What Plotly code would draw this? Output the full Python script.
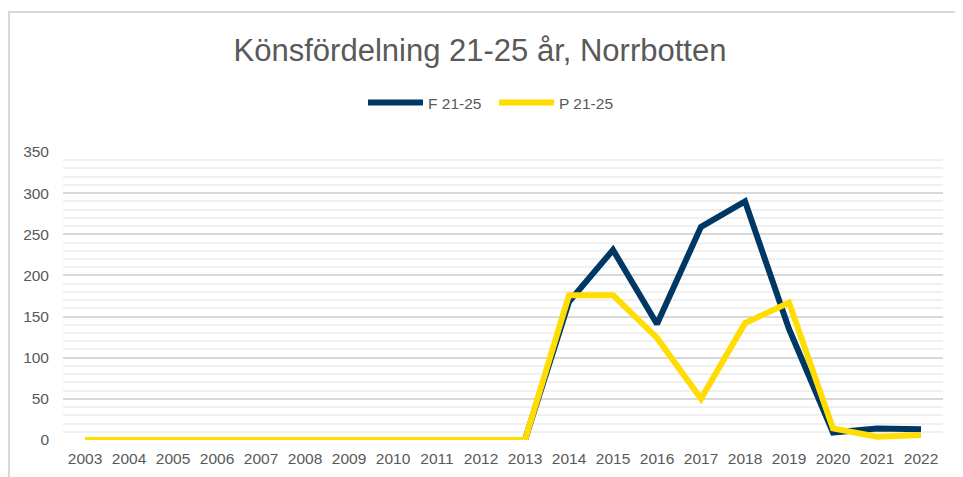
import plotly.graph_objects as go

years = [str(y) for y in range(2003, 2023)]
f_21_25 = [0, 0, 0, 0, 0, 0, 0, 0, 0, 0, 0, 168, 231, 141, 259, 290, 135, 9, 14, 13]
p_21_25 = [0, 0, 0, 0, 0, 0, 0, 0, 0, 0, 0, 176, 176, 124, 50, 142, 167, 14, 4, 6]

FONT = "Liberation Sans, Arial, sans-serif"
GREY = "#595959"

W, H = 955, 469
L, R, T, B = 55, 20, 144, 37
PW, PH = W - L - R, H - T - B

fig = go.Figure()
fig.add_trace(go.Scatter(x=years, y=f_21_25, mode="lines", name="F 21-25",
                         line=dict(color="#003865", width=6)))
fig.add_trace(go.Scatter(x=years, y=p_21_25, mode="lines", name="P 21-25",
                         line=dict(color="#FFDD00", width=6)))

fig.update_layout(
    width=W, height=H,
    margin=dict(l=L, r=R, t=T, b=B),
    paper_bgcolor="white", plot_bgcolor="white",
    font=dict(family=FONT, color=GREY, size=15.5),
    title=dict(text="Könsfördelning 21-25 år, Norrbotten", x=(472 - L) / PW, xref="paper",
               y=1 - 42 / H, yref="container", xanchor="center", yanchor="middle",
               font=dict(size=31, color=GREY, family=FONT)),
    legend=dict(orientation="h", x=(486 - L) / PW, xanchor="center", y=1 - 95 / H,
                yref="container", yanchor="middle", itemwidth=55, entrywidth=61,
                font=dict(size=15.5, color=GREY, family=FONT), traceorder="normal"),
    showlegend=True,
)
fig.update_xaxes(type="category", range=[-0.5, 19.5], showgrid=False, zeroline=False,
                 showline=False, ticks="", ticklabelstandoff=7, automargin=False,
                 tickfont=dict(size=15.5, color=GREY))
fig.update_yaxes(range=[0, 350], dtick=50, showgrid=True, gridcolor="#d9d9d9", gridwidth=1.5,
                 zeroline=False, showline=False, ticks="", ticklabelstandoff=13,
                 automargin=False, tickfont=dict(size=15.5, color=GREY),
                 minor=dict(dtick=10, showgrid=True, gridcolor="#f0f0f0", gridwidth=1.5))

fig.add_shape(type="rect", xref="paper", yref="paper",
              x0=(1 - L) / PW, x1=1.2, y0=-0.3, y1=(PH + T - 4) / PH,
              line=dict(color="#d9d9d9", width=2), fillcolor="rgba(0,0,0,0)", layer="below")

fig.write_html("out.html")
